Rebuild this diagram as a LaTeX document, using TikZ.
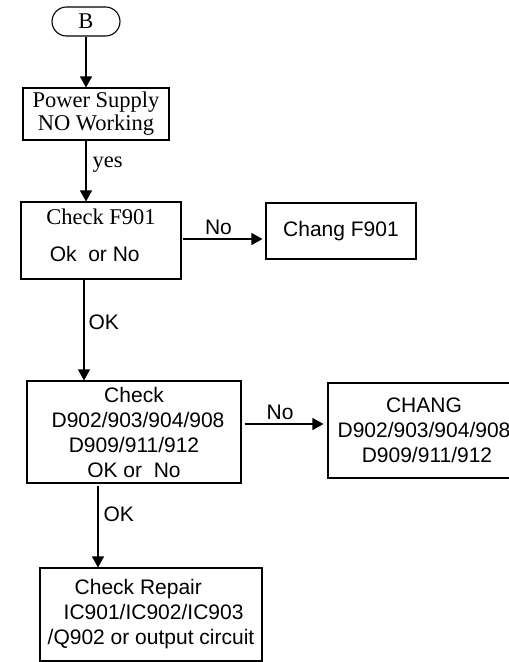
\documentclass[tikz,border=0pt]{standalone}
\usepackage{fontspec}
\newfontfamily\tnr{Liberation Serif}
\newfontfamily\arl{Liberation Sans}
\usetikzlibrary{arrows.meta,calc}
\begin{document}
\begin{tikzpicture}[x=1pt,y=-1pt,
  box/.style={draw,line width=1.1pt,rectangle,inner sep=0pt,align=center},
  sf/.style={font=\arl\fontsize{21}{25}\selectfont},
  rm/.style={font=\tnr\fontsize{22.5}{23}\selectfont},
  arr/.style={line width=1.1pt,-{Triangle[width=12pt,length=11pt]}},
  lbl/.style={inner sep=0pt}]
\useasboundingbox (0,0) rectangle (509,662);
\clip (0,0) rectangle (509,662);
\node[box,rm,rounded corners=14.5pt,minimum width=68pt,minimum height=29pt] (b) at (86,21.5) {B};
\node[box,rm,minimum width=146pt,minimum height=52pt] (ps) at (96,114) {Power Supply\\NO Working};
\node[box,sf,minimum width=160pt,minimum height=77pt,align=left] (c1) at (101,240.5)
  {{\tnr\fontsize{22.5}{23}\selectfont Check F901}\\[12pt]\,Ok~~or No\\[-15pt]\mbox{}};
\node[box,sf,minimum width=150pt,minimum height=56pt] (ch1) at (341,231) {Chang F901};
\node[box,sf,minimum width=214pt,minimum height=102pt] (c2) at (134,432)
  {Check\hspace{12pt}\\\hspace{8pt}D902/903/904/908\\D909/911/912\\OK or~~No\hspace{10pt}};
\node[box,sf,minimum width=192pt,minimum height=95pt] (ch2) at (424,430.5)
  {CHANG\hspace{14pt}\\D902/903/904/908\\\hspace{6pt}D909/911/912};
\node[box,sf,minimum width=222pt,minimum height=93pt,align=left] (cr) at (151,614.5)
  {\hspace{27pt}Check Repair\\\hspace{16pt}IC901/IC902/IC903\\/Q902 or output circuit};
\coordinate (okx) at (84,0);
\coordinate (okx2) at (98,0);
\draw[arr] (b.south) -- (b.south |- ps.north);
\draw[arr] (b.south |- ps.south) -- (b.south |- c1.north) node[lbl,rm,pos=0.4,anchor=west,xshift=6pt] {yes};
\draw[arr] ($(c1.east)+(1,-1.5)$) -- ($(c1.east -| ch1.west)+(-3,-1.5)$) node[lbl,sf,pos=0.45,anchor=south,yshift=4pt] {No};
\draw[arr] (okx |- c1.south) -- (okx |- c2.north) node[lbl,sf,pos=0.42,anchor=west,xshift=4pt] {OK};
\draw[arr] ($(c2.east)+(3,-8)$) -- ($(c2.east -| ch2.west)+(-4,-8)$) node[lbl,sf,pos=0.45,anchor=south,yshift=4pt] {No};
\draw[arr] ($(okx2 |- c2.south)+(0,2)$) -- (okx2 |- cr.north) node[lbl,sf,pos=0.35,anchor=west,xshift=5pt] {OK};
\end{tikzpicture}
\end{document}
